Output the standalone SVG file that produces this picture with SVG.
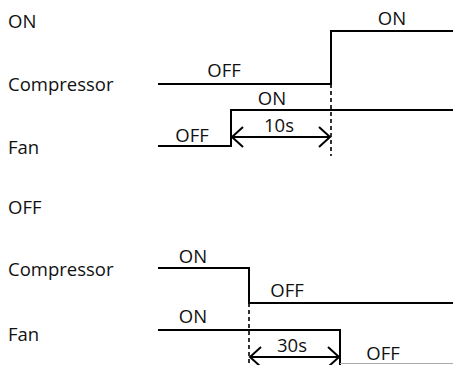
<svg xmlns="http://www.w3.org/2000/svg" width="453" height="365" viewBox="0 0 453 365">
<style>
text{font-family:"Open Sans","DejaVu Sans",sans-serif;font-size:18.5px;fill:#111}
.sig{fill:none;stroke:#000;stroke-width:2}
.dash{fill:none;stroke:#000;stroke-width:1.6;stroke-dasharray:4 3}
.dim{fill:none;stroke:#000;stroke-width:2}
.c{text-anchor:middle}
</style>
<defs>
<marker id="chev" viewBox="0 0 14 24" refX="12" refY="12" markerWidth="14" markerHeight="24" markerUnits="userSpaceOnUse" orient="auto-start-reverse">
<path d="M1,2 L12,12 L1,22" fill="none" stroke="#000" stroke-width="2"/>
</marker>
</defs>
<rect width="453" height="365" fill="#fff"/>
<g id="labels">
<text x="8" y="28">ON</text>
<text x="8" y="91">Compressor</text>
<text x="8" y="154">Fan</text>
<text x="8" y="214">OFF</text>
<text x="8" y="276">Compressor</text>
<text x="8" y="341">Fan</text>
</g>
<g id="on-compressor">
<path class="sig" d="M158,84 H331 V31 H453"/>
<text class="c" x="224" y="77">OFF</text>
<text class="c" x="392" y="25">ON</text>
</g>
<g id="on-fan">
<path class="sig" d="M158,146 H231 V110 H453"/>
<text class="c" x="192" y="142">OFF</text>
<text class="c" x="272" y="105">ON</text>
</g>
<g id="off-compressor">
<path class="sig" d="M158,268 H249 V303 H453"/>
<text class="c" x="193" y="263">ON</text>
<text class="c" x="287" y="297">OFF</text>
</g>
<g id="off-fan">
<path class="sig" d="M158,330 H340 V366"/>
<line x1="340" y1="363.5" x2="453" y2="363.5" stroke="#aaa" stroke-width="1"/>
<text class="c" x="193" y="323">ON</text>
<text class="c" x="383" y="360">OFF</text>
</g>
<g id="connectors">
<line class="dash" x1="331" y1="84" x2="331" y2="156"/>
<line class="dash" x1="249" y1="303" x2="249" y2="366"/>
<line class="dim" x1="232" y1="137" x2="330" y2="137" marker-start="url(#chev)" marker-end="url(#chev)"/>
<text class="c" x="279" y="132">10s</text>
<line class="dim" x1="250" y1="357" x2="339" y2="357" marker-start="url(#chev)" marker-end="url(#chev)"/>
<text class="c" x="292" y="352">30s</text>
</g>
</svg>
